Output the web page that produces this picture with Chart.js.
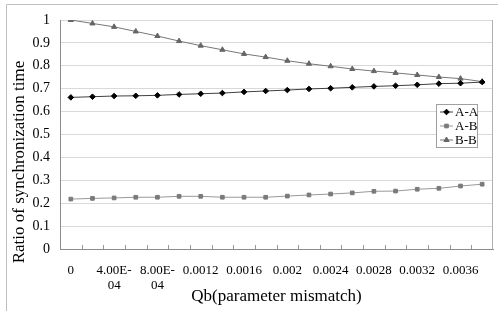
<!DOCTYPE html>
<html>
<head>
<meta charset="utf-8">
<script src="https://cdn.jsdelivr.net/npm/chart.js@4.4.0/dist/chart.umd.min.js"></script>
<style>
  html, body { margin: 0; padding: 0; background: #fff; }
  canvas { display: block; }
</style>
</head>
<body>
<canvas id="grafica" width="498" height="311"></canvas>
<script>
// Categorias del eje X (Qb)
const qb = ['0', '0.0002', '0.0004', '0.0006', '0.0008', '0.001', '0.0012', '0.0014', '0.0016', '0.0018',
            '0.002', '0.0022', '0.0024', '0.0026', '0.0028', '0.003', '0.0032', '0.0034', '0.0036', '0.0038'];
// Etiquetas que se muestran (una de cada dos)
const tickLabels = ['0', '', ['4.00E-', '04'], '', ['8.00E-', '04'], '', '0.0012', '', '0.0016', '',
                    '0.002', '', '0.0024', '', '0.0028', '', '0.0032', '', '0.0036', ''];
// Series
const aa = [0.662, 0.665, 0.668, 0.669, 0.671, 0.675, 0.678, 0.681, 0.686, 0.690,
            0.694, 0.699, 0.702, 0.706, 0.710, 0.713, 0.717, 0.722, 0.724, 0.729];
const ab = [0.218, 0.221, 0.223, 0.226, 0.226, 0.230, 0.230, 0.226, 0.226, 0.226,
            0.231, 0.236, 0.240, 0.245, 0.252, 0.253, 0.261, 0.265, 0.275, 0.283];
const bb = [1.000, 0.985, 0.970, 0.950, 0.930, 0.908, 0.888, 0.870, 0.852, 0.838,
            0.822, 0.809, 0.798, 0.786, 0.777, 0.769, 0.760, 0.751, 0.744, 0.731];
const yTitle = 'Ratio of synchronization time';

const serif = '"Liberation Serif", "DejaVu Serif", serif';
Chart.defaults.font.family = serif;

// marco exterior, titulo Y, marcas del eje X hacia dentro, borde derecho y leyenda
const extras = {
    id: 'extras',
    beforeDraw(chart) {
        const c = chart.ctx;
        c.save();
        c.strokeStyle = '#bfbfbf';
        c.lineWidth = 1;
        c.beginPath();
        c.moveTo(6.5, 311); c.lineTo(6.5, 4.5); c.lineTo(498, 4.5);
        c.stroke();
        // titulo del eje Y (un poco mas abajo que el centro, como en el original)
        c.translate(20, 162);
        c.rotate(-Math.PI / 2);
        c.font = '17px ' + serif;
        c.fillStyle = '#000';
        c.textAlign = 'center';
        c.textBaseline = 'middle';
        c.fillText(yTitle, 0, 0);
        c.restore();
    },
    afterDatasetsDraw(chart) {
        const c = chart.ctx;
        const area = chart.chartArea;
        const x = chart.scales.x;
        const n = qb.length;
        const step = (area.right - area.left) / n;
        c.save();
        c.strokeStyle = '#b0b0b0';
        c.lineWidth = 1;
        c.beginPath();
        c.moveTo(Math.round(area.right) - 0.5, area.top);
        c.lineTo(Math.round(area.right) - 0.5, area.bottom);
        c.stroke();
        c.strokeStyle = '#999';
        c.beginPath();
        for (let i = 1; i < n; i++) {
            const px = Math.round(x.left + i * step) + 0.5;
            c.moveTo(px, area.bottom);
            c.lineTo(px, area.bottom - 4);
        }
        c.stroke();

        // leyenda
        const lx = 436, ly = 104, lw = 41, lh = 43;
        c.fillStyle = '#fff';
        c.fillRect(lx, ly, lw, lh);
        c.strokeStyle = '#a0a0a0';
        c.strokeRect(lx + 0.5, ly + 0.5, lw, lh);
        c.font = '13px ' + serif;
        c.textBaseline = 'middle';
        chart.data.datasets.forEach((ds, i) => {
            const yy = ly + 8 + i * 14;
            c.strokeStyle = ds.borderColor;
            c.lineWidth = 1;
            c.beginPath();
            c.moveTo(lx + 4, yy); c.lineTo(lx + 17, yy);
            c.stroke();
            c.fillStyle = ds.pointBackgroundColor;
            c.strokeStyle = ds.pointBackgroundColor;
            Chart.helpers.drawPoint(c, {
                pointStyle: ds.pointStyle, radius: ds.pointRadius, borderWidth: 1
            }, lx + 10.5, yy);
            c.fillStyle = '#000';
            c.fillText(ds.label, lx + 19, yy + 1);
        });
        c.restore();
    }
};

const ctx = document.getElementById('grafica').getContext('2d');
new Chart(ctx, {
    type: 'line',
    data: {
        labels: qb,
        datasets: [
            {
                label: 'A-A', data: aa,
                borderColor: '#404040', borderWidth: 1,
                pointStyle: 'rectRot', pointRadius: 2.8,
                pointBackgroundColor: '#000', pointBorderColor: '#000', pointBorderWidth: 1
            },
            {
                label: 'A-B', data: ab,
                borderColor: '#999', borderWidth: 1,
                pointStyle: 'rect', pointRadius: 2.6,
                pointBackgroundColor: '#7a7a7a', pointBorderColor: '#7a7a7a', pointBorderWidth: 1
            },
            {
                label: 'B-B', data: bb,
                borderColor: '#777', borderWidth: 1,
                pointStyle: 'triangle', pointRadius: 3,
                pointBackgroundColor: '#666', pointBorderColor: '#666', pointBorderWidth: 1
            }
        ]
    },
    options: {
        responsive: false,
        animation: false,
        layout: { padding: { left: 6, top: 20, right: 5, bottom: 0 } },
        plugins: {
            legend: { display: false },
            tooltip: { enabled: false }
        },
        scales: {
            x: {
                offset: true,
                afterFit(scale) { scale.height = 62; },
                grid: { display: false, offset: true },
                border: { color: '#8c8c8c' },
                ticks: {
                    autoSkip: false, maxRotation: 0, padding: 6,
                    color: '#000', font: { family: serif, size: 13, lineHeight: 1.15 },
                    callback: (v, i) => tickLabels[i]
                },
                title: {
                    display: true, text: 'Qb(parameter mismatch)', color: '#000',
                    font: { family: serif, size: 17 }, padding: { top: 0, bottom: 4 }
                }
            },
            y: {
                min: 0, max: 1,
                afterFit(scale) { scale.width = 54; },
                grid: { color: '#d9d9d9', drawTicks: false },
                border: { color: '#8c8c8c' },
                ticks: {
                    stepSize: 0.1, padding: 10, color: '#000',
                    font: { family: serif, size: 14 },
                    callback: v => String(Math.round(v * 10) / 10)
                }
            }
        }
    },
    plugins: [extras]
});
</script>
</body>
</html>
